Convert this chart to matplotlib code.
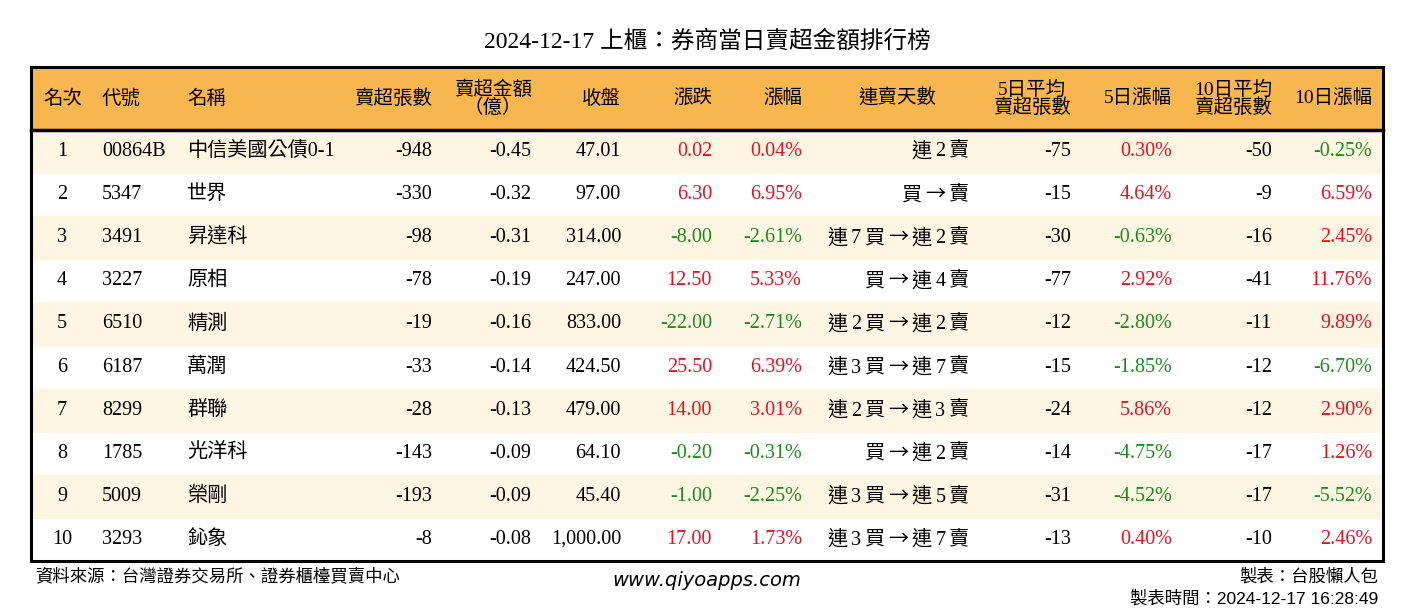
import matplotlib
matplotlib.use("Agg")
import matplotlib.pyplot as plt
from matplotlib.patches import Rectangle
from matplotlib.offsetbox import TextArea, HPacker, AnnotationBbox

# 表格資料
ranks = list(range(1, 11))
codes = ["00864B", "5347", "3491", "3227", "6510", "6187", "8299", "1785", "5009", "3293"]
names = ["中信美國公債0-1", "世界", "昇達科", "原相", "精測", "萬潤", "群聯", "光洋科", "榮剛", "鈊象"]
sell_vol = [-948, -330, -98, -78, -19, -33, -28, -143, -193, -8]
sell_amt = [-0.45, -0.32, -0.31, -0.19, -0.16, -0.14, -0.13, -0.09, -0.09, -0.08]
close = [47.01, 97.00, 314.00, 247.00, 833.00, 424.50, 479.00, 64.10, 45.40, 1000.00]
change = [0.02, 6.30, -8.00, 12.50, -22.00, 25.50, 14.00, -0.20, -1.00, 17.00]
pct = [0.04, 6.95, -2.61, 5.33, -2.71, 6.39, 3.01, -0.31, -2.25, 1.73]
streak = ["連 2 賣", "買 → 賣", "連 7 買 → 連 2 賣", "買 → 連 4 賣", "連 2 買 → 連 2 賣",
          "連 3 買 → 連 7 賣", "連 2 買 → 連 3 賣", "買 → 連 2 賣", "連 3 買 → 連 5 賣",
          "連 3 買 → 連 7 賣"]
avg5 = [-75, -15, -30, -77, -12, -15, -24, -14, -31, -13]
pct5 = [0.30, 4.64, -0.63, 2.92, -2.80, -1.85, 5.86, -4.75, -4.52, 0.40]
avg10 = [-50, -9, -16, -41, -11, -12, -12, -17, -17, -10]
pct10 = [-0.25, 6.59, 2.45, 11.76, 9.89, -6.70, 2.90, 1.26, -5.52, 2.46]

headers = ["名次", "代號", "名稱", "賣超張數", "賣超金額\n（億）", "收盤", "漲跌", "漲幅",
           "連賣天數", "5日平均\n賣超張數", "5日漲幅", "10日平均\n賣超張數", "10日漲幅"]

FONT = ["Liberation Serif", "Noto Sans CJK TC"]
CJK = ["Noto Sans CJK TC", "Liberation Serif"]
RED = "#e8101e"
GREEN = "#1a8c1a"
FS = 14.5

def color_of(v):
    return RED if v > 0 else (GREEN if v < 0 else "black")

W, H = 1414, 612
fig = plt.figure(figsize=(W / 100, H / 100), dpi=100)
ax = fig.add_axes([0, 0, 1, 1])
ax.set_xlim(0, W)
ax.set_ylim(H, 0)
ax.axis("off")

left, right = 31, 1383
top, head_bot, bottom = 67, 130, 561
row_h = (bottom - head_bot) / len(ranks)

# 表頭背景與列底色
ax.add_patch(Rectangle((left, top), right - left, head_bot - top, color="#f8b74e", zorder=0))
for i in range(len(ranks)):
    if i % 2 == 0:
        ax.add_patch(Rectangle((left, head_bot + i * row_h), right - left, row_h,
                               color="#fef5e3", zorder=0))
ax.add_patch(Rectangle((left, top), right - left, bottom - top, fill=False,
                       edgecolor="black", lw=2.2, zorder=3))
ax.plot([left, right], [head_bot, head_bot], color="black", lw=2.5, zorder=3)

# 欄位: (資料字串, 顏色, x, 對齊)
cols = [
    ([str(r) for r in ranks], None, 62, "center"),
    (codes, None, 102, "left"),
    (names, None, 187, "left"),
    ([str(v) for v in sell_vol], None, 432, "right"),
    (["%.2f" % v for v in sell_amt], None, 531, "right"),
    (["{:,.2f}".format(v) for v in close], None, 621, "right"),
    (["%.2f" % v for v in change], [color_of(v) for v in change], 712, "right"),
    (["%.2f%%" % v for v in pct], [color_of(v) for v in pct], 802, "right"),
    ([str(v) for v in avg5], None, 1071, "right"),
    (["%.2f%%" % v for v in pct5], [color_of(v) for v in pct5], 1172, "right"),
    ([str(v) for v in avg10], None, 1272, "right"),
    (["%.2f%%" % v for v in pct10], [color_of(v) for v in pct10], 1372, "right"),
]

# 表頭位置 (x, 對齊)
head_pos = [(63, "center"), (102, "left"), (187, "left"), (432, "right"), (493, "center"),
            (621, "right"), (712, "right"), (802, "right"), (897, "center"), (1071, "right"),
            (1172, "right"), (1272, "right"), (1372, "right")]

hy = (top + head_bot) / 2
for h, (x, ha) in zip(headers, head_pos):
    ax.text(x, hy, h, ha=ha, va="center", fontsize=14, family=FONT,
            multialignment="center", linespacing=0.95)

for vals, colors, x, ha in cols:
    for i, s in enumerate(vals):
        y = head_bot + (i + 0.5) * row_h
        c = colors[i] if colors else "black"
        ax.text(x, y, s, ha=ha, va="center", fontsize=FS, family=FONT, color=c)

# 連賣天數: 箭頭用全形字型
for i, s in enumerate(streak):
    y = head_bot + (i + 0.5) * row_h
    parts = []
    for tok in s.split(" "):
        fam = CJK if tok == "→" else FONT
        parts.append(TextArea(tok, textprops=dict(fontsize=FS, family=fam)))
    box = HPacker(children=parts, sep=2.5, pad=0, align="baseline")
    ab = AnnotationBbox(box, (969, y), xycoords="data", box_alignment=(1, 0.5),
                        frameon=False, pad=0)
    ax.add_artist(ab)

ax.text(707, 42, "2024-12-17 上櫃：券商當日賣超金額排行榜", ha="center", va="center",
        fontsize=17, family=FONT)

ax.text(35, 577, "資料來源：台灣證券交易所、證券櫃檯買賣中心", ha="left", va="center",
        fontsize=12.5, family=FONT)
ax.text(707, 580, "www.qiyoapps.com", ha="center", va="center", fontsize=14,
        family="DejaVu Sans", style="italic")
ax.text(1378, 577, "製表：台股懶人包", ha="right", va="center", fontsize=12.5, family=FONT)
ax.text(1378, 598, "製表時間：2024-12-17 16:28:49", ha="right", va="center",
        fontsize=12.5, family=["Liberation Sans", "Noto Sans CJK TC"])

fig.savefig("out.png", dpi=100)
